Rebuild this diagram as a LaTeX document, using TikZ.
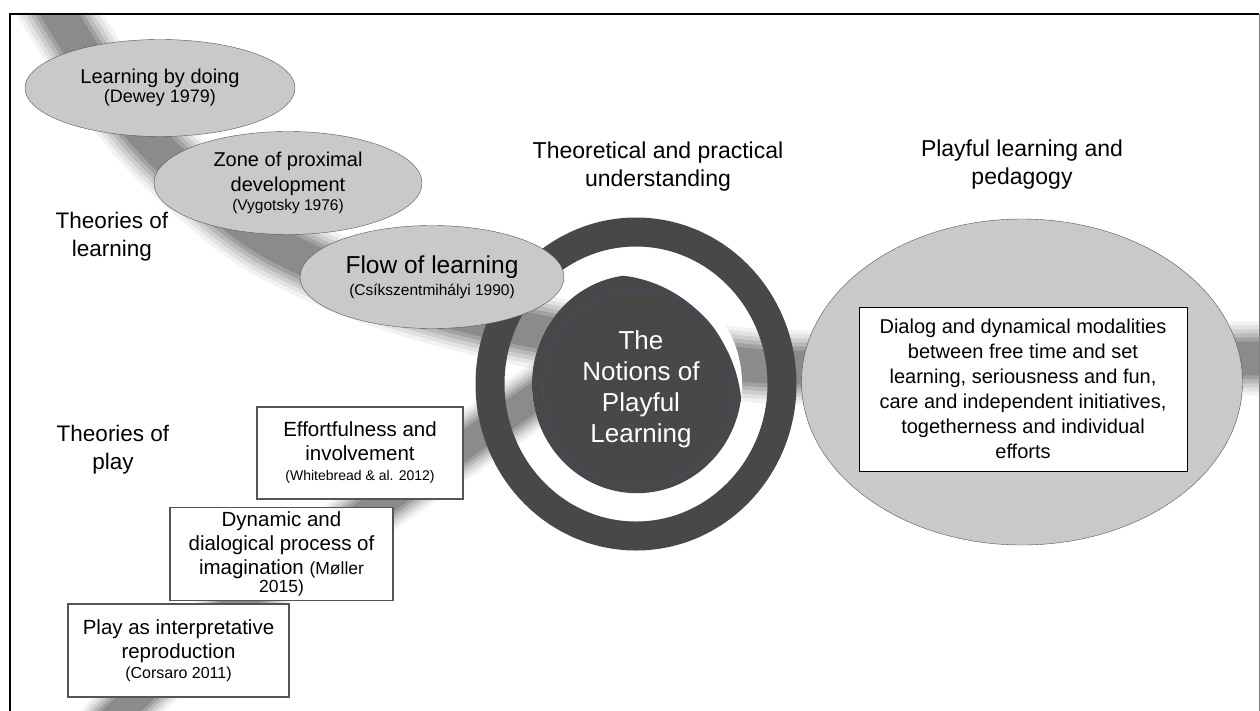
\documentclass[tikz,border=0pt]{standalone}
\usepackage{fontspec}
\setmainfont{Liberation Sans}
\usetikzlibrary{shapes.geometric}
\definecolor{ellgray}{RGB}{201,201,201}
\definecolor{ringgray}{RGB}{72,72,72}
\definecolor{brushgray}{RGB}{90,90,90}
\definecolor{edgegray}{RGB}{85,85,85}
\definecolor{rimblue}{RGB}{62,78,112}
\newcommand{\reftxt}[2][15.5]{{\fontsize{#1}{18}\selectfont #2}}

\begin{document}
\begin{tikzpicture}[x=1pt,y=-1pt,
    theory/.style={ellipse,draw=edgegray,fill=ellgray,inner sep=0pt,align=center,
        font=\fontsize{20}{25}\selectfont},
    playbox/.style={draw=edgegray,line width=1.2pt,fill=white,inner sep=0pt,align=center,
        font=\fontsize{20.5}{24}\selectfont},
    heading/.style={align=center,font=\fontsize{23}{28}\selectfont},
    brush/.style={draw=brushgray,line cap=round,line join=round}]
  \useasboundingbox (0,0) rectangle (1260,710);
  \fill[white] (0,0) rectangle (1260,710);

  % brush strokes behind everything
  \begin{scope}
    \clip (10,14) rectangle (1259,710);
    \foreach \w/\o in {74/0.08,66/0.1,58/0.14,50/0.18,42/0.25,34/0.3} {
      \draw[brush,line width=\w,opacity=\o] plot[smooth] coordinates
        {(45,-10) (95,70) (160,150) (260,235) (380,290) (530,330) (760,366) (1000,362) (1280,358)};
      \draw[brush,line width=0.8*\w,opacity=\o] plot[smooth] coordinates
        {(110,722) (243,600) (400,490) (545,390)};
    }
  \end{scope}

  % ring and centre
  \draw[ringgray,line width=29] (636,384) ellipse [x radius=146,y radius=152];
  \begin{scope}[shift={(637,384)},yscale=1.04]
    \fill[white] (0,0) circle (105);
    \clip (0,0) circle (105);
    \fill[ringgray] (-29,29) circle (134);
    \draw[rimblue,line width=0.8] (1,4) circle (95);
  \end{scope}
  \node[text=white,align=center,font=\fontsize{26}{31}\selectfont] (notions) at (641,389)
    {The\\Notions of\\Playful\\Learning};

  % theories of learning
  \node[theory,minimum width=270,minimum height=97] (dewey) at (160,88)
    {Learning by doing\\[-6pt]\reftxt[18]{(Dewey 1979)}};
  \node[theory,minimum width=268,minimum height=103] (vygotsky) at (288,183)
    {Zone of proximal\\development\\[-6pt]\reftxt{(Vygotsky 1976)}};
  \node[theory,minimum width=264,minimum height=103,font=\fontsize{24.5}{28}\selectfont] (flow) at (432,277)
    {Flow of learning\\[-6pt]\reftxt{(Csíkszentmihályi 1990)}};

  % pedagogy
  \node[ellipse,draw=edgegray,fill=ellgray,minimum width=441,minimum height=326] (pedagogy) at (1022,382) {};
  \node[draw=black,fill=white,minimum width=328,minimum height=164,inner sep=0pt,align=center,
      font=\fontsize{20}{25}\selectfont] (dialog) at (1023,389)
    {Dialog and dynamical modalities\\between free time and set\\learning, seriousness and fun,\\care and independent initiatives,\\togetherness and individual\\efforts};

  % theories of play
  \node[playbox,minimum width=206,minimum height=92] (whitebread) at (360,453)
    {Effortfulness and\\involvement\\[-4pt]\reftxt[14]{(Whitebread \& al. 2012)}};
  \node[playbox,minimum width=223,minimum height=93] (moller) at (281.5,554)
    {Dynamic and\\dialogical process of\\imagination \reftxt[17.5]{(Møller}\\[-6pt]\reftxt[17.5]{2015)}};
  \node[playbox,minimum width=221,minimum height=93] (corsaro) at (178.5,650.5)
    {Play as interpretative\\reproduction\\[-4pt]\reftxt[16]{(Corsaro 2011)}};

  % labels
  \node[heading,font=\fontsize{22.5}{28}\selectfont] (learnlabel) at (112,237) {Theories of\\learning};
  \node[heading,font=\fontsize{22.5}{28}\selectfont] (playlabel) at (113,450) {Theories of\\play};
  \node[heading] (theorylabel) at (658,167) {Theoretical and practical\\understanding};
  \node[heading] (pedlabel) at (1022,165) {Playful learning and\\pedagogy};

  % frame
  \draw[line width=2.2] (10,712) -- (10,14) -- (1259,14);
  \draw[gray,line width=1] (1259,14) -- (1259,712);
\end{tikzpicture}
\end{document}
